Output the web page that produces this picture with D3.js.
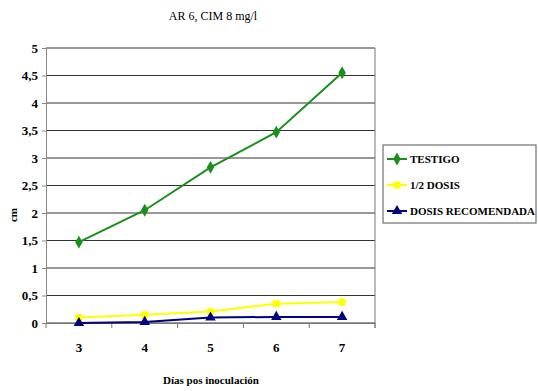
<!DOCTYPE html>
<html lang="es">
<head>
<meta charset="utf-8">
<title>AR 6, CIM 8 mg/l</title>
<style>
body { margin: 0; background: #fff; }
</style>
</head>
<body>
<div id="chartID"></div>
<script src="https://d3js.org/d3.v7.min.js"></script>
<script>
var dias = ["3", "4", "5", "6", "7"];
var testigo = [1.47, 2.05, 2.83, 3.47, 4.55];
var mediaDosis = [0.10, 0.15, 0.21, 0.35, 0.38];
var dosisRecomendada = [0.0, 0.02, 0.10, 0.11, 0.11];
var yTicks = [0, 0.5, 1, 1.5, 2, 2.5, 3, 3.5, 4, 4.5, 5];

var SERIF = "'Liberation Serif', 'Times New Roman', 'DejaVu Serif', serif";

var series = [
    { name: "TESTIGO", values: testigo, color: "#1a8f1a", symbol: d3.symbolDiamond },
    { name: "1/2 DOSIS", values: mediaDosis, color: "#ffff00", symbol: d3.symbolSquare },
    { name: "DOSIS RECOMENDADA", values: dosisRecomendada, color: "#000080", symbol: d3.symbolTriangle }
];

var svg = d3.select("#chartID").append("svg")
    .attr("width", 538).attr("height", 391)
    .attr("font-family", SERIF);
var margin = { top: 48, left: 46 };
var width = 329, height = 275;

var g = svg.append("g").attr("transform", "translate(" + margin.left + "," + margin.top + ")");

var x = d3.scaleBand().domain(dias).range([0, width]);
var y = d3.scaleLinear().domain([0, 5]).range([height, 0]);

// horizontal grid
g.selectAll(".grid")
    .data(yTicks)
    .enter()
    .append("line")
    .attr("x1", 0).attr("x2", width)
    .attr("y1", function(d) { return y(d); })
    .attr("y2", function(d) { return y(d); })
    .attr("stroke", "#333").attr("stroke-width", 1);

// right border
g.append("line")
    .attr("x1", width).attr("x2", width)
    .attr("y1", 0).attr("y2", height + 5)
    .attr("stroke", "#777");

// y axis
var yAxis = g.append("g")
    .call(d3.axisLeft(y).tickValues(yTicks).tickSize(4).tickPadding(4)
        .tickFormat(function(d) { return String(d).replace(".", ","); }));
yAxis.attr("font-family", SERIF).attr("font-size", 13).attr("font-weight", "bold");
yAxis.select(".domain").attr("stroke", "#888");
yAxis.selectAll(".tick line").attr("stroke", "#888");

// x axis, ticks between categories
var xAxis = g.append("g")
    .attr("transform", "translate(0," + height + ")")
    .call(d3.axisBottom(x).tickSize(0).tickPadding(20));
xAxis.attr("font-family", SERIF).attr("font-size", 13).attr("font-weight", "bold");
xAxis.select(".domain").attr("stroke", "#777");
g.selectAll(".xtick")
    .data(d3.range(dias.length + 1))
    .enter()
    .append("line")
    .attr("x1", function(i) { return i * x.step(); })
    .attr("x2", function(i) { return i * x.step(); })
    .attr("y1", height).attr("y2", height + 5)
    .attr("stroke", "#777");

var line = d3.line()
    .x(function(d, i) { return x(dias[i]) + x.bandwidth() / 2; })
    .y(function(d) { return y(d); });

series.forEach(function(s) {
    g.append("path")
        .datum(s.values)
        .attr("fill", "none")
        .attr("stroke", s.color)
        .attr("stroke-width", 2)
        .attr("d", line);
    g.selectAll(null)
        .data(s.values)
        .enter()
        .append("path")
        .attr("d", d3.symbol().type(s.symbol).size(48))
        .attr("fill", s.color)
        .attr("transform", function(d, i) {
            return "translate(" + (x(dias[i]) + x.bandwidth() / 2) + "," + y(d) + ")";
        });
});

// title and axis labels
svg.append("text")
    .attr("x", 213).attr("y", 20)
    .attr("text-anchor", "middle")
    .attr("font-size", 12)
    .text("AR 6, CIM 8 mg/l");

svg.append("text")
    .attr("transform", "translate(17,215) rotate(-90)")
    .attr("text-anchor", "middle")
    .attr("font-size", 11).attr("font-weight", "bold")
    .text("cm");

svg.append("text")
    .attr("x", 211).attr("y", 384)
    .attr("text-anchor", "middle")
    .attr("font-size", 11).attr("font-weight", "bold")
    .text("Días pos inoculación");

// legend
var legend = svg.append("g").attr("transform", "translate(383,145)");
legend.append("rect")
    .attr("width", 153).attr("height", 78)
    .attr("fill", "#fff").attr("stroke", "#555");
series.forEach(function(s, i) {
    var ly = 14 + i * 26;
    legend.append("line")
        .attr("x1", 4).attr("x2", 24)
        .attr("y1", ly).attr("y2", ly)
        .attr("stroke", s.color).attr("stroke-width", 2);
    legend.append("path")
        .attr("d", d3.symbol().type(s.symbol).size(48))
        .attr("fill", s.color)
        .attr("transform", "translate(14," + ly + ")");
    legend.append("text")
        .attr("x", 27).attr("y", ly + 4)
        .attr("font-size", 11).attr("font-weight", "bold")
        .text(s.name);
});
</script>
</body>
</html>
